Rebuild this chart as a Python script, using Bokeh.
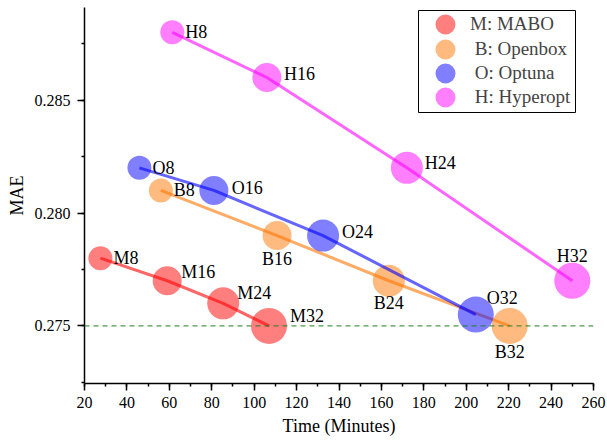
from bokeh.plotting import figure
from bokeh.models import (ColumnDataSource, Range1d, SingleIntervalTicker, NumeralTickFormatter,
                          Span, Legend, LegendItem, BoxAnnotation)
from bokeh.core.properties import value, field
from bokeh.embed import file_html
from bokeh.resources import INLINE

# ---------------- data ----------------
budgets = [8, 16, 24, 32]
series_keys = ["M", "B", "O", "H"]
series_names = ["M: MABO", " B: Openbox", " O: Optuna", " H: Hyperopt"]

time_M = [27.5, 59, 85.4, 107]
mae_M = [0.278, 0.277, 0.276, 0.275]
time_B = [56, 110.8, 163.5, 220.5]
mae_B = [0.281, 0.279, 0.277, 0.275]
time_O = [45.9, 81, 132.5, 204.5]
mae_O = [0.282, 0.281, 0.279, 0.2755]
time_H = [61.4, 106, 172, 250]
mae_H = [0.288, 0.286, 0.282, 0.277]

reference_mae = 0.275

x_ticks_interval = 20
y_ticks_interval = 0.005

# ---------------- styles ----------------
colors = {"M": "#ff0000", "B": "#ff7500", "O": "#0000ff", "H": "#ff00ff"}
diam = {8: 24, 16: 29, 24: 32, 32: 36}
# label offsets (px) and alignment for each point, per series
label_style = {
    "M": ([13, 14, 14, 21], [0, -9, -10, -10], ["left"] * 4),
    "B": ([13, 0, 0, 0], [0, 23, 22, 26], ["left", "center", "center", "center"]),
    "O": ([13, 18, 19, 11], [0, -2, -4, -17], ["left"] * 4),
    "H": ([13, 17, 18, 0], [0, -4, -5, -25], ["left", "left", "left", "center"]),
}
data = {"M": (time_M, mae_M), "B": (time_B, mae_B), "O": (time_O, mae_O), "H": (time_H, mae_H)}

FONT = "Liberation Serif"
AXFONT = "Times"

p = figure(width=607, height=443, output_backend="svg", toolbar_location=None,
           x_range=Range1d(20, 260), y_range=Range1d(0.27245, 0.2891),
           min_border_left=84, min_border_right=14, min_border_top=7, min_border_bottom=60)
p.outline_line_color = None
p.xgrid.visible = False
p.ygrid.visible = False
p.background_fill_color = "white"

# reference line
p.add_layout(Span(location=reference_mae, dimension="width", line_color="#1e7f1e",
                  line_width=1, line_dash="5 4"))

renderers = {}
for k in series_keys:
    xs, ys = data[k]
    dx, dy, al = label_style[k]
    src = ColumnDataSource(dict(
        x=xs, y=ys, size=[diam[b] for b in budgets],
        label=[f"{k}{b}" for b in budgets], dx=dx, dy=dy, align=al))
    p.line("x", "y", source=src, line_color=colors[k], line_width=3, line_alpha=0.6)
    r = p.scatter("x", "y", size="size", source=src, fill_color=colors[k], fill_alpha=0.5,
                  line_color=None)
    renderers[k] = r
    p.text("x", "y", text="label", source=src, x_offset="dx", y_offset="dy",
           text_align=field("align"), text_baseline="middle",
           text_font=value(FONT), text_font_size="18px", text_color="black")

# legend frame (screen units relative to plot frame)
p.add_layout(BoxAnnotation(left=334, right=491, bottom=271, top=373,
                           left_units="screen", right_units="screen",
                           bottom_units="screen", top_units="screen",
                           fill_color="white", fill_alpha=1.0,
                           line_color="black", line_width=1, line_alpha=1.0,
                           level="annotation"))

# one single-entry legend per row, rows 24 px apart
legend_bottoms = [334, 309, 285, 261]
for k, n, vy in zip(series_keys, series_names, legend_bottoms):
    lg = Legend(items=[LegendItem(label=n, renderers=[renderers[k]])],
                location=(336, vy), glyph_width=50, glyph_height=50, spacing=0,
                padding=0, margin=0, label_standoff=-1,
                label_text_font=AXFONT, label_text_font_size="19px",
                border_line_color=None, background_fill_alpha=0.0)
    p.add_layout(lg, "center")

# axes
for ax in (p.xaxis[0], p.yaxis[0]):
    ax.axis_line_width = 1.5
    ax.major_tick_line_width = 1.5
    ax.minor_tick_line_width = 1.5
    ax.major_tick_in = 0
    ax.major_tick_out = 7
    ax.minor_tick_in = 0
    ax.minor_tick_out = 3
    ax.major_label_text_font = AXFONT
    ax.major_label_text_font_size = "16px"
    ax.major_label_text_color = "black"
    ax.axis_label_text_font = AXFONT
    ax.axis_label_text_font_size = "18px"
    ax.axis_label_text_font_style = "normal"
    ax.axis_label_text_color = "black"

p.xaxis.ticker = SingleIntervalTicker(interval=x_ticks_interval, num_minor_ticks=2)
p.yaxis.ticker = SingleIntervalTicker(interval=y_ticks_interval, num_minor_ticks=2)
p.yaxis.formatter = NumeralTickFormatter(format="0.000")
p.xaxis.axis_label = "Time (Minutes)"
p.yaxis.axis_label = "MAE"
p.xaxis.major_label_standoff = 6
p.xaxis.axis_label_standoff = 5
p.yaxis.major_label_standoff = 7
p.yaxis.axis_label_standoff = 5

open("out.html", "w").write(file_html(p, INLINE))
